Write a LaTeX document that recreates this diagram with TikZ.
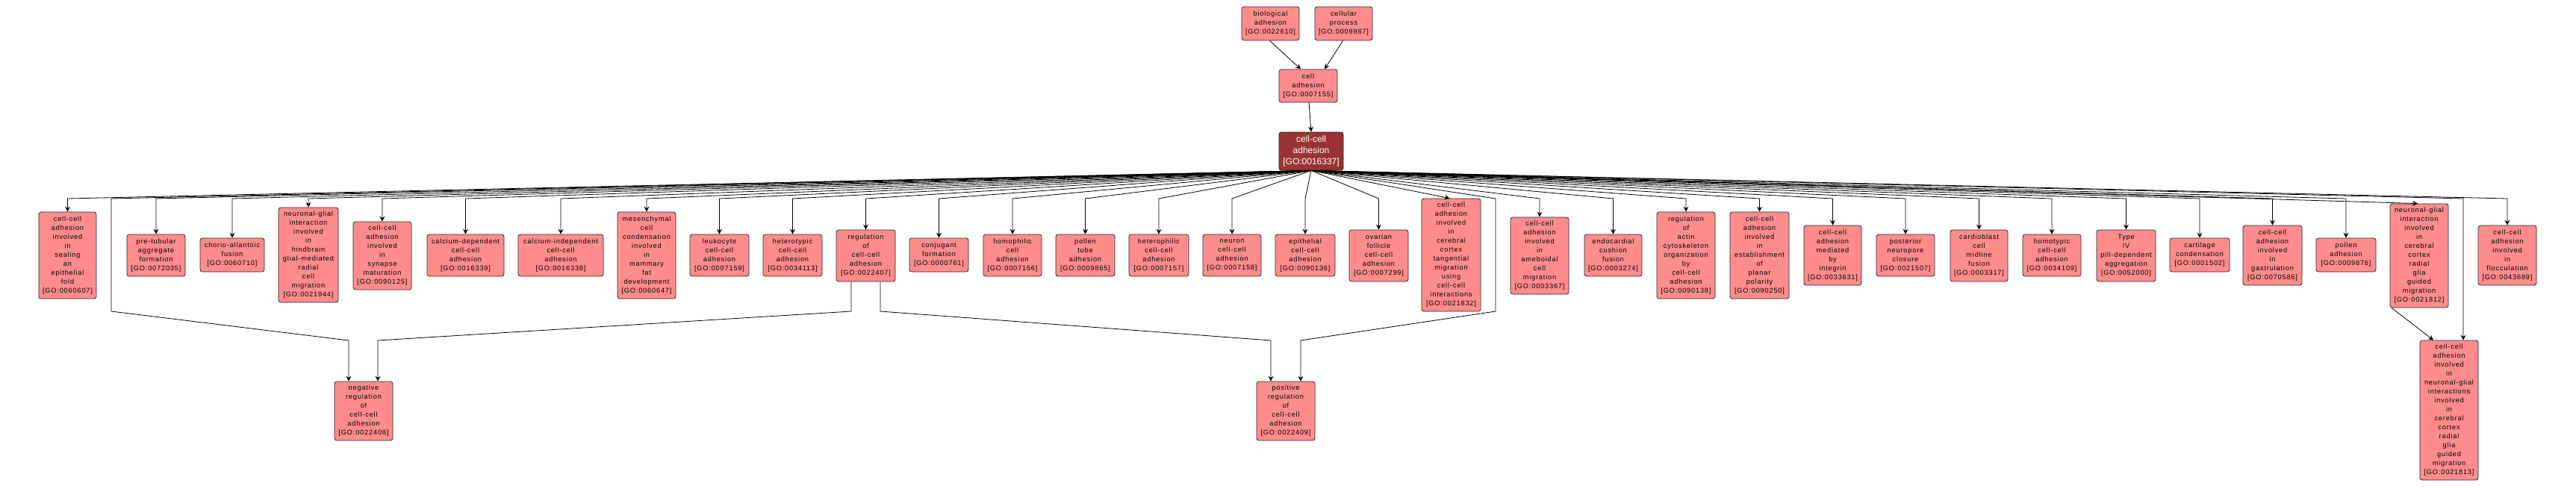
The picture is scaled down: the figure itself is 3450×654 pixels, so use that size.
\documentclass[tikz,border=0pt]{standalone}
\usepackage{fontspec}
\usetikzlibrary{arrows.meta}
\newfontfamily\gofont{Liberation Sans}[LetterSpace=9]
\newfontfamily\rootfont{Liberation Sans}
\definecolor{gofill}{HTML}{FF8C8C}
\definecolor{rootfill}{HTML}{993333}
\newcommand\gid[1]{\relax[GO:#1]}
\newcommand\gonode[7][go]{%
  \pgfmathsetmacro\gw{#5-#3}\pgfmathsetmacro\gh{#6-#4}%
  \pgfmathsetmacro\gx{(#3+#5)/2}\pgfmathsetmacro\gy{(#4+#6)/2}%
  \node[#1, minimum width=\gw pt, minimum height=\gh pt] (#2) at (\gx,\gy) {#7};}
\begin{document}
\begin{tikzpicture}[x=1pt,y=-1pt,
  go/.style={draw=black!85, fill=gofill, rounded corners=3pt, align=center, inner sep=0pt,
    font=\gofont\fontsize{9.2}{12}\selectfont, line width=0.8pt},
  rootnode/.style={go, fill=rootfill, text=white, font=\rootfont\fontsize{12}{14.7}\selectfont},
  edge/.style={draw=black, line width=0.8pt, -{Stealth[length=7pt,width=7pt,inset=2.5pt]}}]
\useasboundingbox (0,0) rectangle (3450,654);
\coordinate (bus) at (0,266);
% top
\gonode{bio}{1663}{9}{1740}{54}{biological\\adhesion\\\gid{0022610}}
\gonode{cp}{1761}{9}{1838}{54}{cellular\\process\\\gid{0009987}}
\gonode{ca}{1713}{93}{1791}{137}{cell\\adhesion\\\gid{0007155}}
\gonode[rootnode]{root}{1713}{177}{1799}{228}{cell-cell\\adhesion\\\gid{0016337}}
% row
\gonode{n60607}{52}{284}{129}{400}{cell-cell\\adhesion\\involved\\in\\sealing\\an\\epithelial\\fold\\\gid{0060607}}
\gonode{n72035}{170}{314}{248}{370}{pre-tubular\\aggregate\\formation\\\gid{0072035}}
\gonode{n60710}{268}{319}{354}{364}{chorio-allantoic\\fusion\\\gid{0060710}}
\gonode{n21944}{373}{278}{453}{405}{neuronal-glial\\interaction\\involved\\in\\hindbrain\\glial-mediated\\radial\\cell\\migration\\\gid{0021944}}
\gonode{n90125}{473}{297}{551}{388}{cell-cell\\adhesion\\involved\\in\\synapse\\maturation\\\gid{0090125}}
\gonode{n16339}{572}{314}{675}{370}{calcium-dependent\\cell-cell\\adhesion\\\gid{0016339}}
\gonode{n16338}{694}{314}{808}{370}{calcium-independent\\cell-cell\\adhesion\\\gid{0016338}}
\gonode{n60647}{827}{284}{905}{400}{mesenchymal\\cell\\condensation\\involved\\in\\mammary\\fat\\development\\\gid{0060647}}
\gonode{n7159}{924}{314}{1003}{370}{leukocyte\\cell-cell\\adhesion\\\gid{0007159}}
\gonode{n34113}{1022}{314}{1101}{370}{heterotypic\\cell-cell\\adhesion\\\gid{0034113}}
\gonode{n22407}{1120}{308}{1199}{377}{regulation\\of\\cell-cell\\adhesion\\\gid{0022407}}
\gonode{n761}{1218}{319}{1297}{364}{conjugant\\formation\\\gid{0000761}}
\gonode{n7156}{1317}{314}{1395}{370}{homophilic\\cell\\adhesion\\\gid{0007156}}
\gonode{n9865}{1414}{314}{1493}{370}{pollen\\tube\\adhesion\\\gid{0009865}}
\gonode{n7157}{1512}{314}{1592}{370}{heterophilic\\cell-cell\\adhesion\\\gid{0007157}}
\gonode{n7158}{1611}{314}{1689}{370}{neuron\\cell-cell\\adhesion\\\gid{0007158}}
\gonode{n90136}{1708}{314}{1788}{370}{epithelial\\cell-cell\\adhesion\\\gid{0090136}}
\gonode{n7299}{1807}{308}{1886}{377}{ovarian\\follicle\\cell-cell\\adhesion\\\gid{0007299}}
\gonode{n21832}{1904}{266}{1983}{417}{cell-cell\\adhesion\\involved\\in\\cerebral\\cortex\\tangential\\migration\\using\\cell-cell\\interactions\\\gid{0021832}}
\gonode{n3367}{2023}{291}{2101}{394}{cell-cell\\adhesion\\involved\\in\\ameboidal\\cell\\migration\\\gid{0003367}}
\gonode{n3274}{2122}{314}{2199}{370}{endocardial\\cushion\\fusion\\\gid{0003274}}
\gonode{n90138}{2219}{284}{2297}{400}{regulation\\of\\actin\\cytoskeleton\\organization\\by\\cell-cell\\adhesion\\\gid{0090138}}
\gonode{n90250}{2317}{284}{2396}{400}{cell-cell\\adhesion\\involved\\in\\establishment\\of\\planar\\polarity\\\gid{0090250}}
\gonode{n33631}{2416}{302}{2493}{382}{cell-cell\\adhesion\\mediated\\by\\integrin\\\gid{0033631}}
\gonode{n21507}{2513}{314}{2591}{370}{posterior\\neuropore\\closure\\\gid{0021507}}
\gonode{n3317}{2612}{308}{2689}{377}{cardioblast\\cell\\midline\\fusion\\\gid{0003317}}
\gonode{n34109}{2709}{314}{2787}{370}{homotypic\\cell-cell\\adhesion\\\gid{0034109}}
\gonode{n52000}{2808}{308}{2887}{377}{Type\\IV\\pili-dependent\\aggregation\\\gid{0052000}}
\gonode{n1502}{2906}{319}{2986}{364}{cartilage\\condensation\\\gid{0001502}}
\gonode{n70586}{3004}{302}{3083}{382}{cell-cell\\adhesion\\involved\\in\\gastrulation\\\gid{0070586}}
\gonode{n9876}{3102}{319}{3182}{364}{pollen\\adhesion\\\gid{0009876}}
\gonode{n21812}{3201}{273}{3279}{412}{neuronal-glial\\interaction\\involved\\in\\cerebral\\cortex\\radial\\glia\\guided\\migration\\\gid{0021812}}
\gonode{n43689}{3319}{302}{3397}{382}{cell-cell\\adhesion\\involved\\in\\flocculation\\\gid{0043689}}
% bottom
\gonode{n22408}{448}{511}{526}{590}{negative\\regulation\\of\\cell-cell\\adhesion\\\gid{0022408}}
\gonode{n22409}{1683}{511}{1761}{590}{positive\\regulation\\of\\cell-cell\\adhesion\\\gid{0022409}}
\gonode{n21813}{3241}{456}{3319}{643}{cell-cell\\adhesion\\involved\\in\\neuronal-glial\\interactions\\involved\\in\\cerebral\\cortex\\radial\\glia\\guided\\migration\\\gid{0021813}}
% helper coordinates
\coordinate (negA) at (149,266);
\coordinate (negB) at (149,417);
\coordinate (negC) at (467,456);
\coordinate (negD) at (506,456);
\coordinate (regL) at (1140,417);
\coordinate (regR) at (1179,417);
\coordinate (posA) at (2003,266);
\coordinate (posB) at (2003,417);
\coordinate (posC) at (1702,456);
\coordinate (posD) at (1742,456);
\coordinate (dwA) at (3299,266);
% top edges
\draw[edge] ([xshift=-1pt]bio.south) -- ([xshift=-10pt]ca.north);
\draw[edge] ([xshift=-1pt]cp.south) -- ([xshift=22pt]ca.north);
\draw[edge] ([xshift=1pt]ca.south) -- (root.north);
% root fan
\foreach \c in {n60607,n72035,n60710,n21944,n90125,n16339,n16338,n60647,n7159,n34113,n22407,n761,n7156,n9865,n7157,n7158,n90136,n7299,n3367,n3274,n90138,n90250,n33631,n21507,n3317,n34109,n52000,n1502,n70586,n9876,n43689}
  \draw[edge] (root.south) -- (\c.north |- bus) -- (\c.north);
\draw[edge] (root.south) -- ([xshift=-2pt]n21832.north);
\draw[edge] (root.south) -- ([xshift=-2pt]n21812.north);
\draw[edge] (root.south) -- (negA) -- (negB) -- (negC) -- (negC |- n22408.north);
\draw[edge] (root.south) -- (posA) -- (posB) -- (posD) -- (posD |- n22409.north);
\draw[edge] (root.south) -- (dwA) -- (dwA |- n21813.north);
% regulation edges
\draw[edge] (regL |- n22407.south) -- (regL) -- (negD) -- (negD |- n22408.north);
\draw[edge] (regR |- n22407.south) -- (regR) -- (posC) -- (posC |- n22409.north);
\draw[edge] ([xshift=-37pt]n21812.south) -- ([xshift=-21pt]n21813.north);
\end{tikzpicture}
\end{document}
